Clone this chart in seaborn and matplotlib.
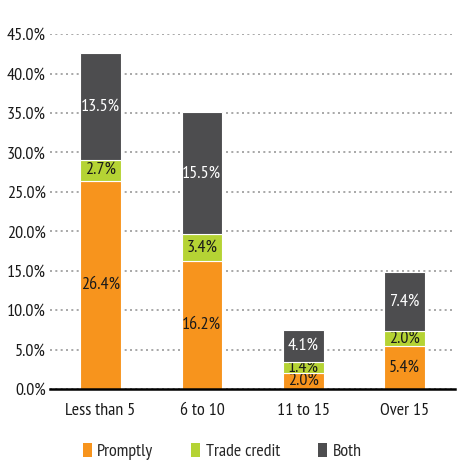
import matplotlib
matplotlib.use("Agg")
import matplotlib.pyplot as plt
from matplotlib.patches import Patch
import numpy as np
import pandas as pd
import seaborn as sns

# data
groups = ["Less than 5", "6 to 10", "11 to 15", "Over 15"]
promptly = [26.4, 16.2, 2.0, 5.4]
trade_credit = [2.7, 3.4, 1.4, 2.0]
both = [13.5, 15.5, 4.1, 7.4]
series_names = ["Promptly", "Trade credit", "Both"]
colors = ["#F7941D", "#B5D334", "#4D4D4F"]
label_colors = ["#1a1a1a", "#1a1a1a", "white"]

sns.set_style("white")
plt.rcParams["font.family"] = ["PT Sans Narrow", "DejaVu Sans"]

fig = plt.figure(figsize=(4.58, 4.61), dpi=100)
ax = fig.add_axes([0.109, 0.156, 0.885, 0.77])

bottom = np.zeros(len(groups))
for name, vals, col, lc in zip(series_names, [promptly, trade_credit, both], colors, label_colors):
    df = pd.DataFrame({"group": groups, "value": vals})
    sns.barplot(data=df, x="group", y="value", order=groups, color=col,
                width=0.4, bottom=bottom.copy(), edgecolor="white", linewidth=0.8,
                saturation=1, ax=ax, zorder=3)
    cont = ax.containers[-1]
    ax.bar_label(cont, labels=[f"{v:.1f}%" for v in vals], label_type="center",
                 color=lc, fontsize=13)
    bottom += np.array(vals)

ax.set_ylim(0, 45)
ax.set_xlim(-0.5, 3.5)
ax.set_yticks(np.arange(0, 46, 5))
ax.set_yticklabels([f"{t:.1f}%" for t in np.arange(0, 46, 5)], fontsize=13, color="#1a1a1a")
ax.set_xlabel("")
ax.set_ylabel("")
ax.tick_params(axis="x", labelsize=13, length=0, pad=10, labelcolor="#1a1a1a")
ax.tick_params(axis="y", length=0, pad=3)
ax.yaxis.grid(True, linestyle=(0, (1.2, 2)), color="#999999", linewidth=1.2, zorder=0)
ax.set_axisbelow(True)
for s in ["top", "right", "left"]:
    ax.spines[s].set_visible(False)
ax.spines["bottom"].set_color("black")
ax.spines["bottom"].set_linewidth(1.8)
ax.spines["bottom"].set_zorder(5)

handles = [Patch(facecolor=c, edgecolor="none") for c in colors]
fig.legend(handles, series_names, loc="center", bbox_to_anchor=(0.485, 0.02),
           ncol=3, frameon=False, fontsize=13, handlelength=0.5, handleheight=0.75,
           handletextpad=0.3, columnspacing=2.1)

fig.savefig("out.png", dpi=100)
